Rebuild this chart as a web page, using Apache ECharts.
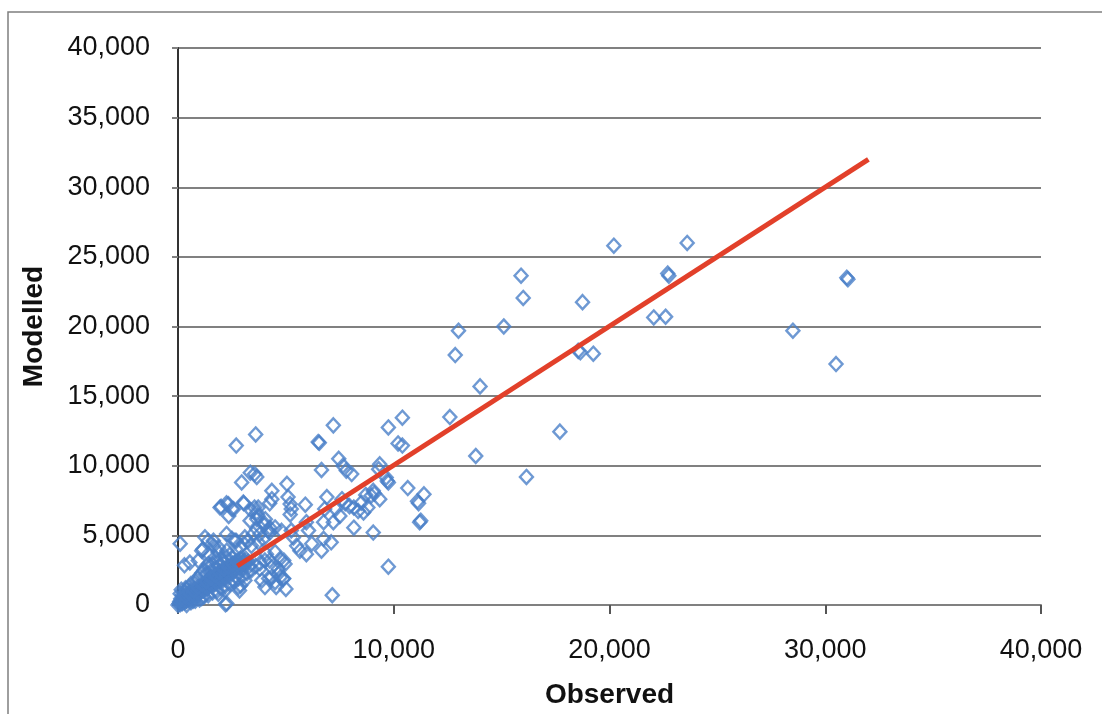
<!DOCTYPE html>
<html>
<head>
<meta charset="utf-8">
<script src="https://cdn.jsdelivr.net/npm/echarts@6/dist/echarts.min.js"></script>
<style>
html,body{margin:0;padding:0;background:#fff;}
#chart{width:1102px;height:714px;}
</style>
</head>
<body>
<div id="chart"></div>
<script>
// Observed / Modelled pairs
const observed = [
 20200,23600,15900,16000,18750,22700,22750,31000,31050,15100,13000,12850,22050,22600,18550,18650,19250,28500,30500,14000,12600,17700,13800,16150,10400,9750,10200,10400,9700,10650,11400,11100,11150,11200,11250,9750,7150,9050,
 7200,6500,6550,6650,7450,7650,7800,8050,9350,9300,9650,9750,9100,9050,8950,9350,8800,8600,8350,8150,7950,7750,7600,7300,7500,7200,6900,6800,6750,6750,7100,6650,8150,8500,8700,5900,5950,6050,6200,5950,5650,5500,5350,5250,5100,5200,5250,5200,5050,5000,4900,4900,4650,4550,4750,
 2700,3600,3550,3650,3350,2950,4350,4250,4350,3050,2000,2250,2500,2350,3550,3700,3650,3650,3800,3950,4050,4250,4250,4100,4250,4500,3800,4200,2850,2900,2200,2250,2500,2700,3050,3250,3400,1150,1400,1650,1850,100,300,550,
 4030,4340,4730,4960,4650,4340,3880,4030,4500,4880,2180,2260,1870,2800,3100,
 1950,2330,2570,3030,3410,3720,3340,3650,4030,4190,4500,4800,1250,1640,1870,2260,2640,2870,3100,3490,3720,3950,1100,1410,940,1410,1720,
 0,50,100,120,200,150,250,300,350,400,450,500,550,600,650,700,750,800,850,900,950,1000,1050,1100,1150,1200,1250,1300,1350,1400,1450,1500,1550,1600,1650,1700,1750,1800,1850,1900,1950,2000,2050,2100,2150,2200,2250,2300,2350,2400,2450,2500,2550,2600,2650,2700,2750,2800,2850,2900,2950,3000,3100,3150,3250,3300,
 200,300,400,500,600,700,800,900,1000,1100,1200,1300,1400,1500,1600,1700,1800,1900,2000,2100,2200,2300,2400,2500,400,600,800,1000,1200,1400,1600,1800,2000,2200,2400,2600,2800,3000,3200,3400,3600,3800,100,150,250,350,700,1100,
 80,180,280,380,480,580,680,780,880,980,1080,1180,1280,1380,1480,1580,1680,1780,1880,1980,2080,2180,2280,2380,2480,2580,2680,2780,2880,2980,3080,
 130,330,530,730,930,1130,1330,1530,1730,1930,2130,2330,2530,2730,2930
];
const modelled = [
 25800,26000,23650,22050,21750,23800,23650,23500,23400,20000,19700,17950,20650,20700,18250,18150,18050,19700,17300,15700,13500,12450,10700,9200,13450,12750,11600,11450,8900,8400,7950,7450,7300,5950,6050,2750,700,5200,
 12900,11700,11650,9700,10500,10000,9650,9400,10100,9750,9150,8800,8000,8200,7850,7600,7000,6650,6750,7000,7100,7300,7600,6900,6400,5950,7750,6900,5950,4750,4500,3900,5550,7350,7900,7200,5950,5350,4400,3650,3900,4250,4850,5350,7750,7250,6900,6500,8700,1150,3200,1900,2600,1300,2000,
 11450,12250,9400,9200,9500,8800,8200,7300,7600,7300,7050,7300,6900,6400,7000,6400,6650,5450,5100,5800,6150,5550,5200,3650,3200,3800,2600,1900,1050,1400,50,5100,4750,4600,4400,4600,4250,4000,4600,4250,3800,4400,2850,3050,
 3190,2710,3310,2950,2240,2000,1760,1290,1640,1880,1050,100,810,1290,1760,
 7000,7240,6880,7360,6760,7000,6050,6170,5810,5330,5570,5330,4860,4620,4140,3900,4620,4140,4860,5100,4500,4740,3900,3670,3190,2950,3430,
 0,100,50,200,150,350,300,200,450,300,550,400,700,500,650,900,600,800,1000,700,1100,900,1250,1000,1400,1100,1300,1500,1200,1600,1350,1750,1450,1650,1900,1500,1800,2050,1700,2200,1900,2100,2350,1800,2500,2150,2400,2700,2000,2550,2300,2800,2450,3000,2600,2900,2350,3100,2700,3300,2800,3050,2900,3300,3100,2800,
 700,900,1100,1300,1500,1200,1600,1900,2100,2300,2500,2200,2700,2400,2900,2600,3100,2800,3300,3000,3500,3200,3600,3400,0,200,300,400,600,700,900,1000,1200,1400,1500,1700,1900,2100,2300,2500,2800,3000,800,1100,600,1200,300,500,
 250,150,400,300,600,450,800,650,950,850,1200,1050,1350,1250,1600,1450,1800,1650,2000,1850,2200,2050,2450,2250,2650,2450,2850,2650,3050,2550,3150,
 450,650,900,1050,1300,1500,1700,1950,2150,2350,2600,2750,2950,3150,3400
];
// Fitted line end points
const lineObserved = [2750, 32000];
const lineModelled = [2800, 32000];
// Axis ticks
const xTicks = [0, 10000, 20000, 30000, 40000];
const yTicks = [0, 5000, 10000, 15000, 20000, 25000, 30000, 35000, 40000];

const points = observed.map((x, i) => [x, modelled[i]]);
const linePts = lineObserved.map((x, i) => [x, lineModelled[i]]);
const fmt = v => v.toLocaleString('en-US');
const FONT = 'Liberation Sans';

const chart = echarts.init(document.getElementById('chart'), null, {renderer: 'canvas'});
chart.setOption({
  animation: false,
  backgroundColor: '#ffffff',
  grid: {left: 178, top: 48, right: 61, bottom: 106, containLabel: false},
  graphic: [{
    type: 'rect', z: -1,
    shape: {x: 8, y: 12, width: 1200, height: 800},
    style: {fill: 'none', stroke: '#7f7f7f', lineWidth: 1.5}
  }],
  xAxis: {
    type: 'value', min: xTicks[0], max: xTicks[xTicks.length - 1], interval: 10000,
    name: 'Observed', nameLocation: 'middle', nameGap: 76,
    nameTextStyle: {fontFamily: FONT, fontSize: 28, fontWeight: 'bold', color: '#111'},
    axisLine: {show: true, onZero: false, lineStyle: {color: '#808080', width: 2}},
    axisTick: {show: true, inside: false, length: 9, lineStyle: {color: '#555', width: 2}},
    axisLabel: {margin: 32, fontFamily: FONT, fontSize: 27, color: '#111', formatter: fmt},
    splitLine: {show: false}
  },
  yAxis: {
    type: 'value', min: yTicks[0], max: yTicks[yTicks.length - 1], interval: 5000,
    name: 'Modelled', nameLocation: 'middle', nameGap: 130, nameRotate: 90,
    nameTextStyle: {fontFamily: FONT, fontSize: 28, fontWeight: 'bold', color: '#111'},
    axisLine: {show: true, onZero: false, lineStyle: {color: '#333', width: 2}},
    axisTick: {show: true, inside: false, length: 6, lineStyle: {color: '#808080', width: 2}},
    axisLabel: {margin: 28, fontFamily: FONT, fontSize: 27, color: '#111', formatter: fmt},
    splitLine: {show: true, lineStyle: {color: '#808080', width: 2}}
  },
  series: [{
    type: 'scatter',
    data: points,
    symbol: 'diamond',
    symbolSize: [13, 14],
    itemStyle: {color: 'rgba(255,255,255,0)', borderColor: '#4a80c8', borderWidth: 2.4},
    z: 2
  }, {
    type: 'line',
    data: linePts,
    symbol: 'none',
    lineStyle: {color: '#e2402a', width: 5},
    z: 3
  }]
});
</script>
</body>
</html>
